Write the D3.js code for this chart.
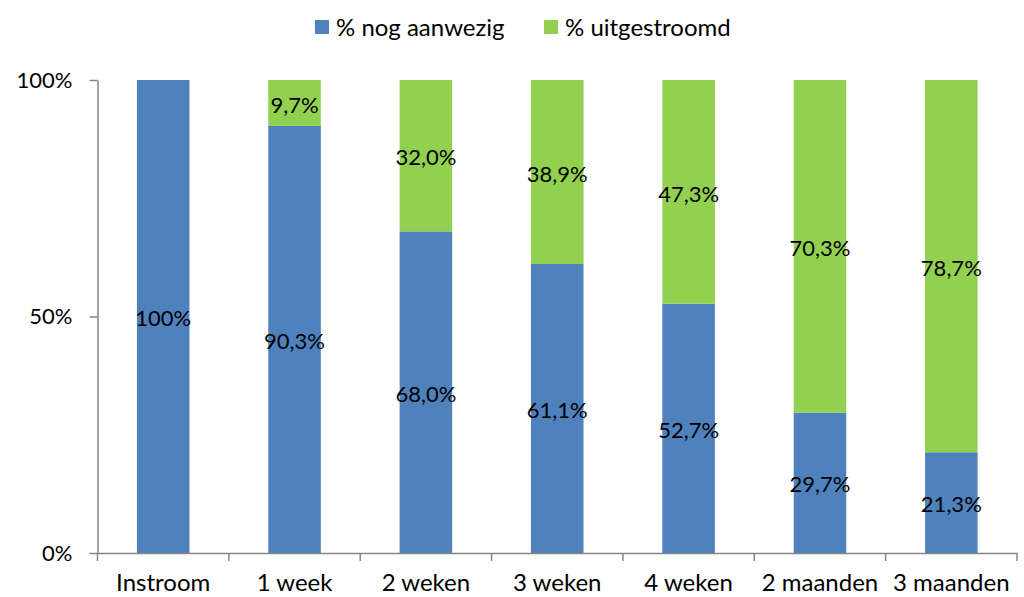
<!DOCTYPE html>
<html><head><meta charset="utf-8">
<script src="https://cdn.jsdelivr.net/npm/d3@7"></script>
<style>body{margin:0;background:#fff}svg{display:block}text{font-family:Lato,"Open Sans",sans-serif;fill:#000}</style>
</head><body><svg id="c" width="1024" height="597"></svg>
<script>
const categories = ["Instroom","1 week","2 weken","3 weken","4 weken","2 maanden","3 maanden"];
const aanwezig = [100, 90.3, 68.0, 61.1, 52.7, 29.7, 21.3];
const uitgestroomd = [0, 9.7, 32.0, 38.9, 47.3, 70.3, 78.7];
const aanwezigLabels = ["100%","90,3%","68,0%","61,1%","52,7%","29,7%","21,3%"];
const uitLabels = ["","9,7%","32,0%","38,9%","47,3%","70,3%","78,7%"];
const seriesNames = ["% nog aanwezig","% uitgestroomd"];
const yTicks = [0, 50, 100];
const yTickLabels = ["0%","50%","100%"];
const colors = ["#4F81BD","#92D050"];

const svg = d3.select("#c");
const L=97.5, R=1017, T=80, B=553;
const x = d3.scaleBand().domain(categories).range([L,R]).paddingInner(0.6).paddingOuter(0.3);
const xb = d3.scaleBand().domain(categories).range([L,R]);
const y = d3.scaleLinear().domain([0,100]).range([B,T]);

const data = categories.map((c,i)=>({cat:c, a:aanwezig[i], u:uitgestroomd[i], la:aanwezigLabels[i], lu:uitLabels[i]}));
const g = svg.append("g");
g.selectAll("rect.a").data(data).join("rect").attr("class","a")
 .attr("x",d=>x(d.cat)).attr("width",x.bandwidth())
 .attr("y",d=>y(d.a)).attr("height",d=>y(0)-y(d.a)).attr("fill",colors[0]);
g.selectAll("rect.u").data(data.filter(d=>d.u>0)).join("rect").attr("class","u")
 .attr("x",d=>x(d.cat)).attr("width",x.bandwidth())
 .attr("y",d=>y(d.a+d.u)).attr("height",d=>y(d.a)-y(d.a+d.u)).attr("fill",colors[1]);
g.selectAll("text.la").data(data).join("text").attr("class","la")
 .attr("x",d=>x(d.cat)+x.bandwidth()/2).attr("y",d=>y(d.a/2)+2).attr("dy","0.35em")
 .attr("text-anchor","middle").style("font-size","22px").text(d=>d.la);
g.selectAll("text.lu").data(data.filter(d=>d.u>0)).join("text").attr("class","lu")
 .attr("x",d=>x(d.cat)+x.bandwidth()/2).attr("y",d=>y(d.a+d.u/2)+2).attr("dy","0.35em")
 .attr("text-anchor","middle").style("font-size","22px").text(d=>d.lu);

const ya = svg.append("g").attr("transform",`translate(${L},0)`)
 .call(d3.axisLeft(y).tickValues(yTicks).tickFormat((d,i)=>yTickLabels[i]).tickSizeInner(8).tickSizeOuter(0).tickPadding(17));
ya.select(".domain").attr("stroke","#868686").attr("stroke-width",1.5);
ya.selectAll(".tick line").attr("stroke","#868686").attr("stroke-width",1.5);
ya.selectAll("text").style("font-size","22px").attr("font-family",null);
const xa = svg.append("g").attr("transform",`translate(0,${B})`)
 .call(d3.axisBottom(xb).tickSize(0).tickPadding(21));
xa.select(".domain").attr("stroke","#868686").attr("stroke-width",1.5);
xa.selectAll("text").style("font-size","24px").attr("font-family",null);
const bounds = categories.map(c=>xb(c)).concat([R]);
svg.append("g").selectAll("line").data(bounds).join("line")
 .attr("x1",d=>d).attr("x2",d=>d).attr("y1",B).attr("y2",B+8)
 .attr("stroke","#868686").attr("stroke-width",1.5);

const lg = svg.append("g");
const lx = [315, 544];
seriesNames.forEach((n,i)=>{
  lg.append("rect").attr("x",lx[i]).attr("y",20).attr("width",14).attr("height",14).attr("fill",colors[i]);
  lg.append("text").attr("x",lx[i]+21).attr("y",28).attr("dy","0.35em").style("font-size","24px").text(n);
});
</script></body></html>
